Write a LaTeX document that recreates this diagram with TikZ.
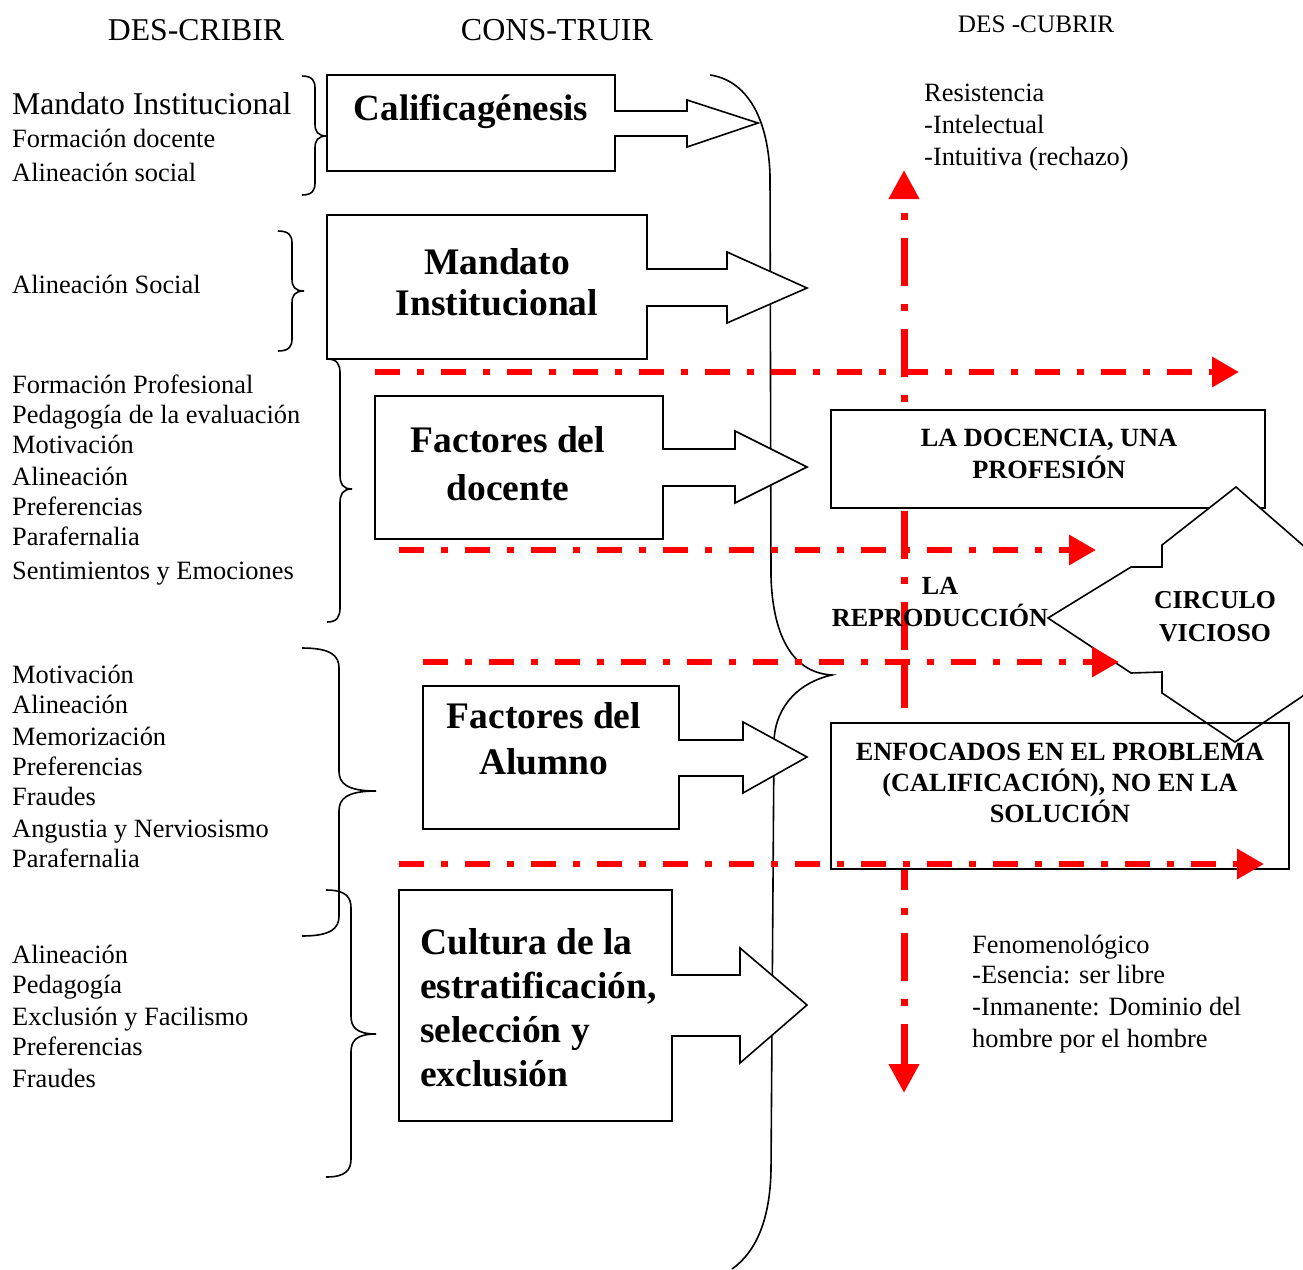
\documentclass[tikz,border=0pt]{standalone}
\usepackage{fontspec}
\setmainfont{Liberation Serif}
\usetikzlibrary{arrows.meta,calc}
\newcommand{\mybrace}[7]{%
 \draw[bracestyle] (#1,#2) .. controls +({0.8*(#3-#1)},0) and +(0,{-0.6*#7}) .. (#3,{#2+#7})
  -- (#3,{#5-#7}) .. controls +(0,{0.6*#7}) and +({0.8*(#3-#4)},0) .. (#4,#5)
  .. controls +({0.8*(#3-#4)},0) and +(0,{-0.6*#7}) .. (#3,{#5+#7})
  -- (#3,{#6-#7}) .. controls +(0,{0.6*#7}) and +({0.8*(#3-#1)},0) .. (#1,#6);}
\tikzset{
  blk/.style={draw=black, line width=1.6pt, fill=white, line join=miter},
  bracestyle/.style={draw=black, line width=1.6pt},
  redh/.style={draw=red, line width=6.5pt, dash pattern=on 25pt off 17pt on 7pt off 17pt, -{Triangle[length=27pt,width=29pt]}},
  redv/.style={draw=red, line width=7pt, dash pattern=on 48pt off 18pt on 7pt off 18pt, -{Triangle[length=29pt,width=29pt]}},
  lefttxt/.style={anchor=base west, inner sep=0pt, font=\fontsize{26.4}{30}\selectfont},
  bigbold/.style={inner sep=0pt},
  boxbold/.style={font=\bfseries\fontsize{26.3}{31.5}\selectfont, align=center, inner sep=0pt},
  headtxt/.style={inner sep=0pt},
}
\begin{document}
\begin{tikzpicture}[x=1pt,y=-1pt]
\useasboundingbox (0,0) rectangle (1303,1269);
\fill[white] (0,0) rectangle (1303,1269);

% headers
\node[headtxt, font=\fontsize{31.7}{36}\selectfont] (h1) at (196,30) {DES-CRIBIR};
\node[headtxt, font=\fontsize{32}{36}\selectfont] (h2) at (557,30) {CONS-TRUIR};
\node[headtxt, font=\fontsize{25.2}{30}\selectfont] (h3) at (1036,24) {DES -CUBRIR};

% big brace
\draw[bracestyle] (710,75) .. controls (745,80) and (768,115) .. (770,175)
  -- (771,577) .. controls (773,640) and (795,673) .. (832,675)
  .. controls (800,682) and (776,705) .. (774,740)
  -- (771,1170) .. controls (770,1220) and (756,1252) .. (732,1269);

% small braces
\mybrace{302}{76}{315}{327}{136}{195}{12}
\mybrace{278}{231}{292}{304}{291}{351}{12}
\mybrace{327}{359}{340}{352}{489}{622}{14}
\mybrace{302}{648}{339}{376}{791}{936}{20}
\mybrace{326}{890}{351}{376}{1034}{1177}{18}

% vertical red arrows
\coordinate (vmidU) at (904,650);
\coordinate (vtop) at (904,170);
\coordinate (vmidD) at (904,660);
\coordinate (vbot) at (904,1093);
\draw[redv] (vmidU) -- (vtop);
\draw[redv] (vmidD) -- (vbot);

% right boxes
\node[draw, line width=1.6pt, fill=white, minimum width=434pt, minimum height=98pt, inner sep=0pt] (docbox) at (1048,459) {};
\node[fill=white, minimum width=458pt, minimum height=146pt, inner sep=0pt, outer sep=0pt] (enfbox) at (1060,796) {};
% circulo vicioso shape
\draw[blk] (1048,618) -- (1131,567) -- (1162,567) -- (1162,545) -- (1236,487) -- (1400,630)
  -- (1235,742) -- (1162,693) -- (1162,672) -- (1131,673) -- cycle;
\draw[line width=1.6pt] (enfbox.north west) rectangle (enfbox.south east);

\node[boxbold] (doctxt) at (1049,454) {LA DOCENCIA, UNA\\PROFESIÓN};
\node[boxbold, font=\bfseries\fontsize{26.3}{31}\selectfont] (enftxt) at (1060,783) {ENFOCADOS EN EL PROBLEMA\\(CALIFICACIÓN), NO EN LA\\SOLUCIÓN};
\node[boxbold, font=\bfseries\fontsize{25.8}{33}\selectfont] (circ) at (1215,617) {CIRCULO\\VICIOSO};
\node[boxbold, font=\bfseries\fontsize{26.1}{32}\selectfont] (repro) at (940,602) {LA\\REPRODUCCIÓN};

% horizontal red arrows
\coordinate (a1s) at (375,372); \coordinate (a1e) at (1239,372);
\coordinate (a2s) at (399,550); \coordinate (a2e) at (1096,550);
\coordinate (a3s) at (423,662); \coordinate (a3e) at (1119,662);
\coordinate (a4s) at (399,864); \coordinate (a4e) at (1264,864);
\draw[redh] (a1s) -- (a1e);
\draw[redh] (a2s) -- (a2e);
\draw[redh] (a3s) -- (a3e);
\draw[redh] (a4s) -- (a4e);

% block arrows
\draw[blk] (327,75) -- (615,75) -- (615,111) -- (687,111) -- (687,100) -- (758,123) -- (687,147) -- (687,136) -- (615,136) -- (615,171) -- (327,171) -- cycle;
\draw[blk] (327,215) -- (647,215) -- (647,269) -- (727,269) -- (727,252) -- (807,288) -- (727,323) -- (727,306) -- (647,306) -- (647,359) -- (327,359) -- cycle;
\draw[blk] (375,396) -- (663,396) -- (663,449) -- (735,449) -- (735,431) -- (807,467) -- (735,503) -- (735,486) -- (663,486) -- (663,539) -- (375,539) -- cycle;
\draw[blk] (423,686) -- (679,686) -- (679,740) -- (743,740) -- (743,722) -- (807,757) -- (743,793) -- (743,776) -- (679,776) -- (679,829) -- (423,829) -- cycle;
\draw[blk] (399,890) -- (672,890) -- (672,975) -- (740,975) -- (740,948) -- (807,1005) -- (740,1063) -- (740,1036) -- (672,1036) -- (672,1121) -- (399,1121) -- cycle;

\node[bigbold, font=\bfseries\fontsize{37}{44}\selectfont] (calif) at (471,112) {Calificagénesis};
\node[bigbold, align=center, font=\bfseries\fontsize{37.5}{41}\selectfont] (mand) at (497,282) {Mandato\\Institucional};
\node[bigbold, align=center, font=\bfseries\fontsize{37.5}{48}\selectfont] (fdoc) at (508,464) {Factores del\\docente};
\node[bigbold, align=center, font=\bfseries\fontsize{37.5}{46}\selectfont] (falu) at (544,739) {Factores del\\Alumno};
\node[bigbold, align=left, anchor=west, font=\bfseries\fontsize{37.5}{44}\selectfont] (cult) at (420,1008) {Cultura de la\\estratificación,\\selección y\\exclusión};

% left texts
\node[lefttxt, font=\fontsize{31.7}{36}\selectfont] (l0) at (12,114) {Mandato Institucional};
\node[lefttxt] (l1) at (12,147) {Formación docente};
\node[lefttxt] (l2) at (12,181) {Alineación social};
\node[lefttxt] (l3) at (12,293) {Alineación Social};
\foreach \t/\y [count=\i] in {Formación Profesional/384, Pedagogía de la evaluación/414, Motivación/444, Alineación/476, Preferencias/506, Parafernalia/536, Sentimientos y Emociones/570}
  {\node[lefttxt] (d\i) at (12,\y+9) {\t};}
\foreach \t/\y [count=\i] in {Motivación/674, Alineación/704, Memorización/736, Preferencias/766, Fraudes/796, Angustia y Nerviosismo/828, Parafernalia/858}
  {\node[lefttxt] (m\i) at (12,\y+9) {\t};}
\foreach \t/\y [count=\i] in {Alineación/954, Pedagogía/984, Exclusión y Facilismo/1016, Preferencias/1046, Fraudes/1078}
  {\node[lefttxt] (c\i) at (12,\y+9) {\t};}

% right texts
\foreach \t/\y [count=\i] in {Resistencia/92, -Intelectual/124, -Intuitiva (rechazo)/156}
  {\node[lefttxt] (r\i) at (924,\y+9) {\t};}
\foreach \t/\y [count=\i] in {Fenomenológico/944, -Esencia: ser libre/974, -Inmanente: Dominio del/1006, hombre por el hombre/1038}
  {\node[lefttxt] (f\i) at (972,\y+9) {\t};}
\end{tikzpicture}
\end{document}
